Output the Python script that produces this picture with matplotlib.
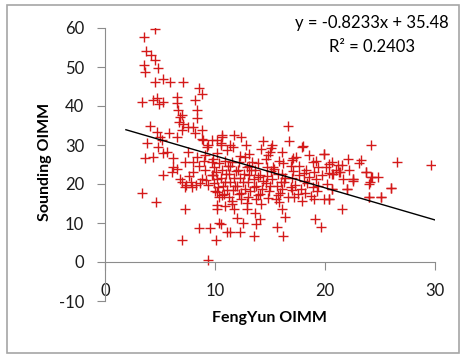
import matplotlib.pyplot as plt
from matplotlib.patches import Rectangle

plt.rcParams['font.family'] = ['Lato', 'DejaVu Sans']
plt.rcParams['axes.unicode_minus'] = False

# FengYun OIMM (x) / Sounding OIMM (y)
fy_left = [3.5, 4.5, 3.7, 4.2, 4.5, 3.5, 4.8, 3.6, 4.5, 5.3, 5.9, 7.1, 8.5, 8.8, 3.4, 4.4, 4.7, 5.3, 6.5, 6.5,
           8.2, 4.9, 6.6, 6.8, 7.0, 8.4, 8.4, 6.7, 7.1, 4.1, 4.7, 5.0, 3.8, 5.2, 5.8, 6.5, 7.5, 8.0, 7.0, 8.2,
           8.8, 8.8, 9.7, 9.4, 3.6, 4.4, 5.3, 4.8, 6.2, 6.2, 5.3, 5.6, 7.3, 7.5, 8.4, 8.0, 9.1, 9.7, 6.1, 6.8,
           8.0, 9.1, 8.8, 9.7, 6.5, 8.9, 9.3, 10.2, 10.6, 3.4, 4.6, 7.3, 8.5, 9.5, 10.4, 7.0, 10.1, 9.4, 7.4, 8.3,
           9.4, 10.2, 10.2, 11.1, 7.9, 7.3, 9.0, 8.5, 7.6, 7.0, 7.8, 8.6, 9.2]
so_left = [57.7, 59.7, 54.1, 53.0, 51.8, 50.5, 49.8, 48.7, 46.2, 46.9, 46.2, 46.2, 44.5, 43.1, 41.0, 41.5, 42.0, 41.0, 42.3, 40.8,
           41.5, 40.5, 39.0, 37.3, 37.7, 39.0, 36.9, 36.0, 35.5, 34.9, 33.4, 32.1, 30.5, 31.3, 33.0, 32.1, 34.6, 34.6, 33.8, 33.0,
           33.8, 31.5, 31.3, 30.0, 26.7, 27.0, 27.9, 29.5, 26.7, 24.4, 22.3, 28.2, 25.6, 28.2, 27.0, 25.6, 27.4, 25.6, 23.1, 21.3,
           23.1, 23.6, 21.3, 22.3, 23.8, 31.3, 29.5, 31.3, 32.0, 17.7, 15.4, 13.6, 8.7, 8.7, 10.0, 5.6, 5.6, 0.5, 19.7, 19.7,
           19.7, 18.0, 14.6, 7.7, 19.2, 19.2, 26.0, 24.5, 22.0, 20.5, 20.5, 20.2, 21.0]

fy_mid = [10.5, 11.6, 12.8, 14.4, 15.1, 16.7, 17.9,
          10.2, 11.1, 12.3, 13.1, 14.2, 14.8, 16.1, 17.4, 18.5, 19.9,
          9.8, 10.9, 11.5, 12.7, 13.4, 14.6, 15.8, 17.1, 19.2, 20.6, 22.1,
          10.4, 11.2, 12.2, 13.1, 13.9, 15.3, 16.2, 17.6, 18.9, 20.1, 21.2, 23.1,
          9.9, 10.6, 11.4, 12.1, 12.9, 13.6, 14.7, 15.4, 16.9, 18.3, 19.4, 21.0, 22.2,
          10.1, 11.0, 11.9, 12.6, 13.3, 14.1, 15.1, 16.1, 17.1, 18.1, 19.0, 20.4, 21.4, 23.7,
          9.8, 10.5, 11.3, 12.3, 13.1, 13.9, 14.7, 15.7, 16.4, 17.6, 18.5, 19.7, 20.7, 22.5,
          10.2, 10.9, 11.7, 12.5, 13.5, 14.4, 15.2, 16.0, 17.0, 18.1, 19.2, 21.6, 22.5, 24.3,
          9.9, 10.7, 11.4, 12.0, 13.0, 13.7, 14.6, 15.6, 16.3, 17.3, 18.4, 19.4, 20.2, 24.1,
          10.3, 11.1, 11.8, 12.7, 13.5, 14.3, 15.0, 16.1, 16.9, 17.8, 18.9, 20.6, 22.0, 26.0,
          10.0, 10.8, 11.6, 12.4, 13.2, 14.1, 14.9, 15.9, 17.0, 18.2, 19.3,
          10.6, 11.3, 12.2, 13.0, 13.9, 14.8, 15.7, 16.6, 17.5, 18.7,
          10.4, 11.5, 12.4, 13.7, 15.5, 17.2, 17.9, 19.0, 19.9, 20.4, 24.0, 25.1,
          10.9, 11.5, 12.9, 14.2, 15.8,
          10.2, 11.7, 12.9, 16.1, 21.5, 13.6,
          14.1, 16.4, 19.1, 12.0,
          10.5, 11.4, 12.3, 12.5, 13.5, 13.7, 15.6, 16.2, 19.6]
so_mid = [30.6, 29.4, 29.9, 30.9, 29.3, 31.0, 29.5,
          27.9, 28.6, 27.1, 27.8, 28.9, 27.5, 28.3, 27.0, 27.4, 27.7,
          26.4, 26.0, 25.6, 26.9, 25.7, 26.3, 25.9, 26.7, 26.0, 25.6, 26.4,
          25.3, 24.5, 25.6, 24.6, 25.4, 24.4, 25.5, 24.5, 25.6, 24.3, 24.9, 25.3,
          24.3, 23.5, 24.6, 23.6, 24.4, 23.7, 24.3, 23.8, 24.5, 23.6, 24.4, 23.5, 23.6,
          23.2, 22.6, 23.4, 22.5, 23.5, 22.4, 23.3, 22.6, 23.4, 22.7, 23.2, 22.8, 23.1, 23.1,
          22.3, 21.6, 22.5, 21.5, 22.4, 21.7, 22.0, 22.5, 21.6, 22.3, 21.7, 22.2, 22.6, 21.3,
          21.3, 20.6, 21.5, 20.5, 21.4, 20.7, 21.2, 20.6, 21.5, 20.7, 21.3, 21.3, 20.8, 21.8,
          20.3, 19.6, 20.5, 19.5, 20.4, 19.6, 20.3, 19.5, 20.4, 19.7, 20.3, 19.6, 20.0, 20.5,
          19.3, 18.5, 19.4, 18.6, 19.3, 18.7, 19.4, 18.6, 19.2, 18.6, 19.2, 18.7, 18.7, 19.0,
          18.3, 17.5, 18.4, 17.6, 18.3, 17.5, 18.2, 17.7, 18.4, 17.6, 18.2,
          17.3, 16.6, 17.4, 16.6, 17.2, 16.5, 17.3, 16.6, 17.4, 16.8,
          16.7, 15.6, 16.2, 16.2, 16.2, 16.7, 15.6, 16.2, 16.2, 16.2, 16.7, 16.7,
          14.4, 15.0, 15.2, 14.8, 15.4,
          13.6, 13.6, 13.6, 13.6, 13.6, 12.5,
          11.0, 11.5, 11.0, 11.2,
          9.7, 7.7, 7.7, 10.0, 6.7, 9.7, 9.0, 6.7, 9.0]

fy_high = [16.6, 18.0, 15.2, 19.9, 11.7, 12.4, 24.2, 26.5, 29.6, 23.3, 21.5, 20.4, 23.7, 24.8,
           22.5, 20.6, 21.3, 24.2, 24.0, 25.1, 26.0, 24.0, 22.0, 20.6, 20.4, 10.6, 10.5, 11.4, 15.0, 17.0]
so_high = [34.9, 29.7, 30.0, 27.7, 32.6, 32.0, 30.0, 25.6, 24.9, 26.2, 24.9, 25.1, 23.1, 21.8,
           21.3, 22.6, 23.1, 21.8, 16.7, 16.7, 19.0, 20.0, 18.7, 18.7, 16.2, 32.6, 30.0, 30.0, 28.2, 26.2]

slope = -0.8233
intercept = 35.48
trend_x = [1.9, 30.0]
equation = "y = -0.8233x + 35.48"
r_squared = "R² = 0.2403"

fengyun = fy_left + fy_mid + fy_high
sounding = so_left + so_mid + so_high

W, H = 461, 356
fig = plt.figure(figsize=(W / 100, H / 100), dpi=100)
ax = fig.add_axes([105 / W, 1 - 301 / H, 330 / W, 273 / H])

ax.plot(fengyun, sounding, '+', color='#d41a1a', markersize=7, mew=1.0, linestyle='none')
ax.plot(trend_x, [slope * v + intercept for v in trend_x], color='black', lw=1.0)

ax.set_xlim(0, 30)
ax.set_ylim(-10, 60)
ax.set_xticks([0, 10, 20, 30])
ax.set_yticks(range(-10, 61, 10))
for s in ['top', 'right']:
    ax.spines[s].set_visible(False)
ax.spines['bottom'].set_position(('data', 0))
for s in ['left', 'bottom']:
    ax.spines[s].set_color('#8c8c8c')
ax.tick_params(axis='x', colors='#8c8c8c', labelcolor='#1a1a1a', labelsize=12, length=6, pad=9)
ax.tick_params(axis='y', colors='#8c8c8c', labelcolor='#1a1a1a', labelsize=12, length=6, pad=9)

fig.text(269 / W, 1 - 318 / H, "FengYun OIMM", ha='center', va='center', fontsize=11.5, fontweight='bold')
fig.text(45 / W, 1 - 162 / H, "Sounding OIMM", ha='center', va='center', rotation=90,
         fontsize=11.5, fontweight='bold')
fig.text(372 / W, 1 - 23 / H, equation, ha='center', va='center', fontsize=12)
fig.text(372 / W, 1 - 47 / H, r_squared, ha='center', va='center', fontsize=12)

fig.patches.append(Rectangle((7 / W, 1 - 353 / H), 452 / W, 348 / H, transform=fig.transFigure,
                             fill=False, edgecolor='#a6a6a6', lw=1.2))

plt.savefig("out.png", dpi=100)
